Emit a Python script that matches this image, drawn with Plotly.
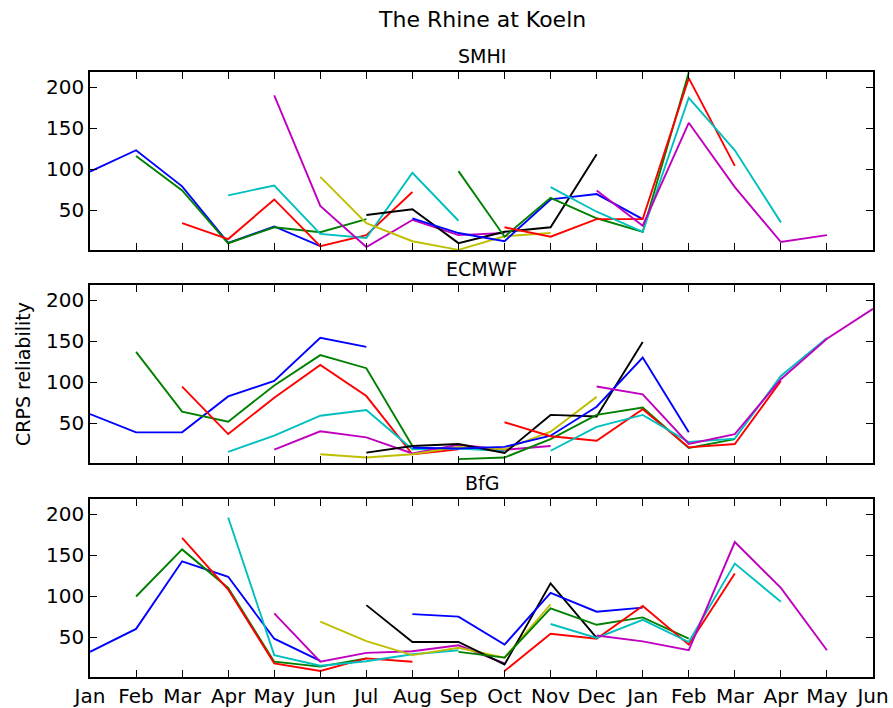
import plotly.graph_objects as go
from plotly.subplots import make_subplots

months = ["Jan", "Feb", "Mar", "Apr", "May", "Jun", "Jul", "Aug", "Sep",
          "Oct", "Nov", "Dec", "Jan", "Feb", "Mar", "Apr", "May", "Jun"]

# Each forecast series starts at month index i (Jan=0 ... Dec=11)
smhi = [
    [97, 123, 79, 10, 30, 6],
    [116, 74, 9.5, 29, 23, 39],
    [34, 14.6, 63, 6, 19.5, 72],
    [68, 80, 21, 16, 95.5, 37],
    [190, 55, 5, 38, 19.5, 22],
    [90.6, 34, 12, 1.5, 18, 22],
    [44, 51, 9.7, 23.5, 29, 118],
    [40, 22, 12, 63, 69.5, 39],
    [97.6, 17.5, 65, 40, 23.5, 218],
    [29, 17.5, 39, 39, 211, 104],
    [78, 48, 23.5, 187, 123, 35],
    [74, 31, 156.5, 78, 11, 19.5],
]

ecmwf = [
    [61, 38.7, 38.7, 82.5, 101.5, 154, 143],
    [137, 64, 51.6, 96, 133, 117, 22],
    [94.6, 36.6, 81, 121, 83, 12, 18],
    [15, 34.6, 59, 66, 18, 19, 16],
    [17.5, 40, 32.6, 13, 23.6, 17.5, 22],
    [12, 8, 12, 21, 18, 39.5, 82],
    [14, 22, 24.5, 13.5, 60, 58, 149],
    [20, 19, 21, 34.6, 70, 130, 38.7],
    [6, 8, 30.5, 60, 69, 19.6, 30.5],
    [51, 34, 28.5, 67, 20.4, 24.5, 101.5],
    [16.3, 45.5, 60, 27, 31, 107.5, 154],
    [94.6, 85, 24.5, 36.6, 103.5, 153, 189.5],
]

bfg = [
    [32, 60, 142.5, 123.6, 48, 21],
    [99.5, 157, 110, 20, 14, 24],
    [171, 108, 18, 8.6, 24, 20],
    [196, 28, 15, 20.6, 29, 34],
    [79, 20, 30.7, 32.7, 40, 18],
    [69, 45, 28, 37, 25, 90],
    [89, 44, 44, 16.6, 115.6, 49],
    [78, 75, 40.8, 104, 81, 86],
    [32, 25, 85, 65, 74, 48],
    [8.6, 54, 48, 88, 40.8, 127.6],
    [66, 49, 71, 44, 139.7, 93],
    [52, 44.8, 34, 166, 110, 34],
]

panels = [("SMHI", smhi), ("ECMWF", ecmwf), ("BfG", bfg)]
colors = ["#0000ff", "#008000", "#ff0000", "#00bfbf", "#bf00bf", "#bfbf00", "#000000"]
yticks = [50, 100, 150, 200]

FONT = "DejaVu Sans"

fig = make_subplots(rows=3, cols=1, shared_xaxes=True)

for r, (name, series) in enumerate(panels, start=1):
    for i, vals in enumerate(series):
        xs = list(range(i, i + len(vals)))
        fig.add_trace(go.Scatter(x=xs, y=vals, mode="lines",
                                 line=dict(color=colors[i % len(colors)], width=1.9),
                                 showlegend=False, hoverinfo="skip"),
                      row=r, col=1)

axis_common = dict(ticks="inside", ticklen=7, tickwidth=1, tickcolor="black",
                   showline=True, linecolor="black", linewidth=1.5, mirror="ticks",
                   showgrid=False, zeroline=False, automargin=False,
                   tickfont=dict(family=FONT, size=20, color="black"))

domains = [[0.7058, 1.0], [0.3537, 0.6479], [0.0, 0.2942]]
for r in range(1, 4):
    fig.update_xaxes(row=r, col=1, range=[0, 17], tickmode="array",
                     tickvals=list(range(len(months))), ticktext=months,
                     showticklabels=(r == 3), **axis_common)
    fig.update_yaxes(row=r, col=1, range=[1.3, 218.5], tickmode="array",
                     tickvals=yticks, domain=domains[r - 1], **axis_common)

annotations = [
    dict(text="The Rhine at Koeln", x=0.5, y=1.086, size=22),
    dict(text="SMHI", x=0.5, y=1.0264, size=19),
    dict(text="ECMWF", x=0.5, y=0.6744, size=19),
    dict(text="BfG", x=0.5, y=0.3207, size=19),
]
for a in annotations:
    fig.add_annotation(text=a["text"], x=a["x"], y=a["y"], xref="paper", yref="paper",
                       xanchor="center", yanchor="middle", showarrow=False,
                       font=dict(family=FONT, size=a["size"], color="black"))

fig.add_annotation(text="CRPS reliability", x=-0.0856, y=0.5008, xref="paper", yref="paper",
                   xanchor="center", yanchor="middle", textangle=-90, showarrow=False,
                   font=dict(family=FONT, size=19, color="black"))

fig.update_layout(width=893, height=708, margin=dict(l=90, r=20, t=72, b=31),
                  plot_bgcolor="white", paper_bgcolor="white",
                  font=dict(family=FONT, color="black"))

fig.write_html("out.html")
